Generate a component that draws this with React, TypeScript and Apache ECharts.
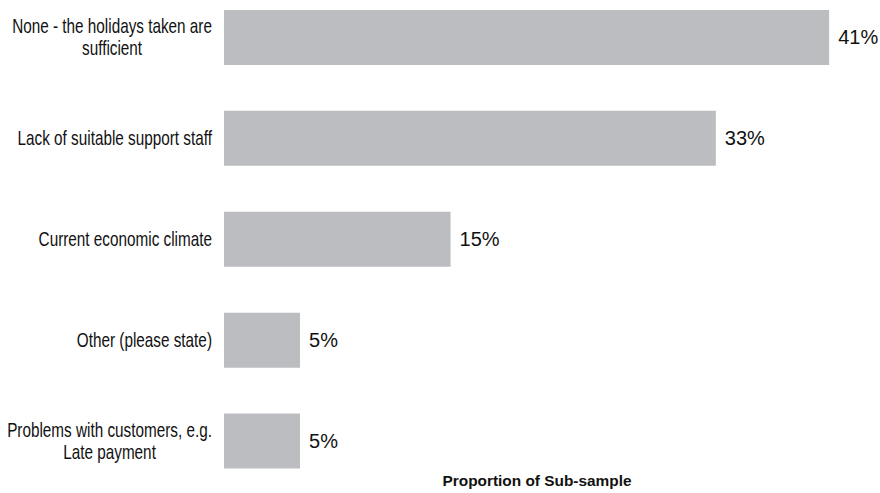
import React, { useEffect, useRef } from "react";
import * as echarts from "echarts";

const categories = [
  "None - the holidays taken are\nsufficient",
  "Lack of suitable support staff",
  "Current economic climate",
  "Other (please state)",
  "Problems with customers, e.g.\nLate payment",
];
const values = [40.6, 33.0, 15.2, 5.1, 5.1];
const axisTitle = "Proportion of Sub-sample";

const FONT = "Liberation Sans, Arial, Helvetica, sans-serif";

export default function App() {
  const ref = useRef<HTMLDivElement>(null);
  useEffect(() => {
    const chart = echarts.init(ref.current!, null, { renderer: "svg" });
    chart.setOption({
      animation: false,
      backgroundColor: "transparent",
      grid: { left: 224, top: 0, width: 626, height: 505, containLabel: false },
      xAxis: {
        type: "value",
        min: 0,
        max: 42,
        axisLine: { show: false },
        axisTick: { show: false },
        axisLabel: { show: false },
        splitLine: { show: false },
        name: axisTitle,
        nameLocation: "middle",
        nameGap: -11,
        nameTextStyle: {
          fontFamily: FONT,
          fontWeight: "bold",
          fontSize: 15.4,
          color: "#111",
          verticalAlign: "middle",
        },
      },
      yAxis: {
        type: "category",
        data: categories,
        inverse: true,
        axisLine: { show: false },
        axisTick: { show: false },
        splitLine: { show: false },
        axisLabel: { show: false },
      },
      series: [
        {
          type: "bar",
          data: values,
          barCategoryGap: "45.5%",
          itemStyle: { color: "#bcbdc1" },
          label: {
            show: true,
            position: "right",
            distance: 9,
            color: "#111",
            fontFamily: FONT,
            fontSize: 20,
            formatter: (p: any) => `${Math.round(p.value)}%`,
          },
        },
      ],
    });

    const labels = categories.map((c, i) => {
      const y = chart.convertToPixel({ yAxisIndex: 0 }, i) as number;
      const x = (chart.convertToPixel({ xAxisIndex: 0 }, 0) as number) - 12;
      return {
        type: "text",
        x,
        y,
        scaleX: 0.765,
        scaleY: 1,
        style: {
          text: c.split("\n").map((l) => `{c|${l}}`).join("\n"),
          align: "right",
          verticalAlign: "middle",
          fill: "#111",
          font: `20px ${FONT}`,
          lineHeight: 22,
          rich: {
            c: {
              align: "center",
              fontFamily: FONT,
              fontSize: 20,
              lineHeight: 22,
              fill: "#111",
              color: "#111",
            },
          },
        },
      };
    });
    chart.setOption({ graphic: { elements: labels } });

    return () => chart.dispose();
  }, []);
  return (
    <div
      ref={ref}
      style={{ width: 880, height: 506, position: "absolute", left: 0, top: -13 }}
    />
  );
}
